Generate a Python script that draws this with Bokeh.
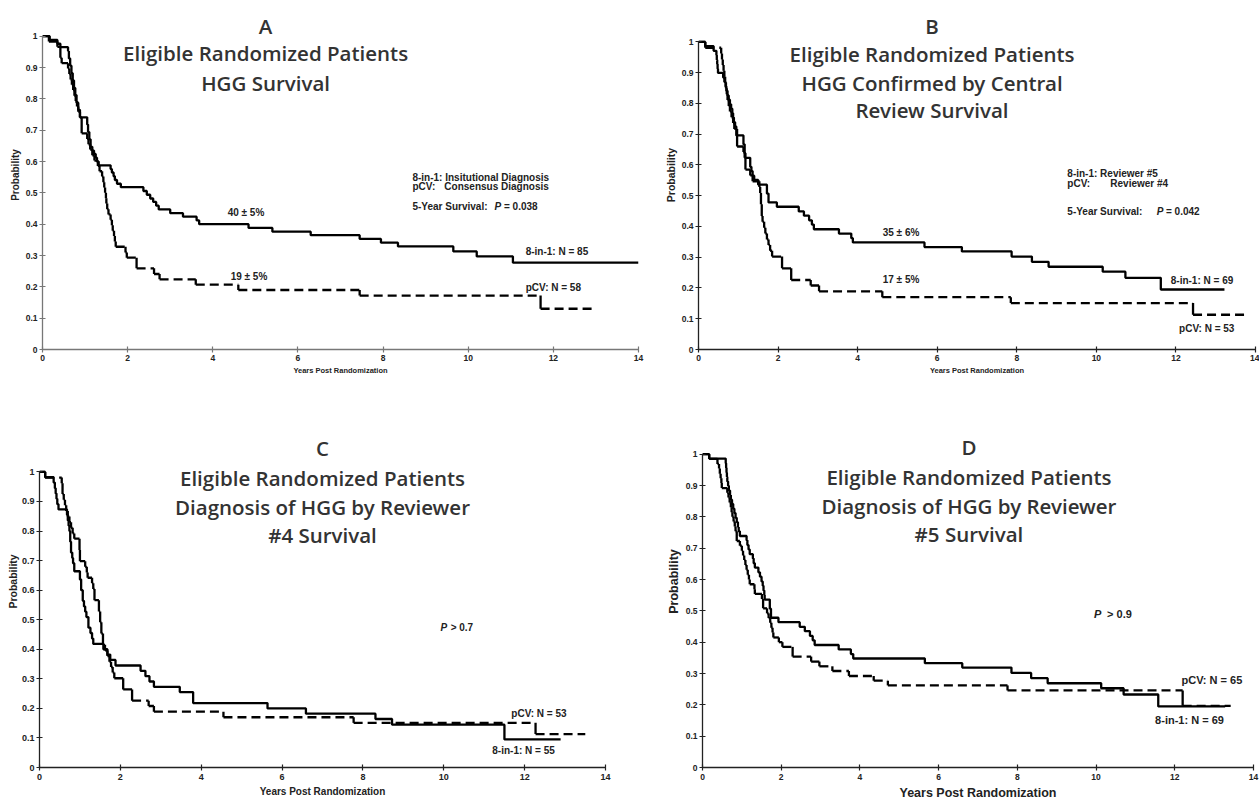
from bokeh.plotting import figure
from bokeh.models import Range1d, FixedTicker, Label
from bokeh.layouts import row, column
from bokeh.embed import file_html
from bokeh.resources import INLINE

# ---------------- data ----------------
X_TICKS = [0, 2, 4, 6, 8, 10, 12, 14]
X_TICK_LABELS = ["0", "2", "4", "6", "8", "10", "12", "14"]
Y_TICKS = [0, 0.1, 0.2, 0.3, 0.4, 0.5, 0.6, 0.7, 0.8, 0.9, 1]
Y_TICK_LABELS = ["0", "0.1", "0.2", "0.3", "0.4", "0.5", "0.6", "0.7", "0.8", "0.9", "1"]

# Kaplan-Meier steps: (time in years, survival probability after the step)
A_8IN1 = [(0, 1.0), (0.17, 0.988), (0.35, 0.976), (0.42, 0.965), (0.6, 0.953), (0.62, 0.929),
          (0.65, 0.906), (0.68, 0.882), (0.71, 0.859), (0.74, 0.835), (0.77, 0.812), (0.8, 0.788),
          (0.84, 0.765), (0.88, 0.741), (1.05, 0.718), (1.07, 0.694), (1.1, 0.671), (1.13, 0.647),
          (1.17, 0.635), (1.21, 0.624), (1.25, 0.612), (1.28, 0.6), (1.32, 0.588), (1.6, 0.576),
          (1.63, 0.565), (1.67, 0.553), (1.7, 0.541), (1.75, 0.529), (1.84, 0.518), (2.37, 0.506),
          (2.45, 0.494), (2.53, 0.482), (2.6, 0.471), (2.67, 0.459), (2.73, 0.447), (3.0, 0.435),
          (3.3, 0.424), (3.62, 0.412), (3.68, 0.4), (4.84, 0.388), (5.4, 0.376), (6.3, 0.365),
          (7.45, 0.353), (7.95, 0.341), (8.35, 0.329), (9.65, 0.313), (10.2, 0.297), (11.05, 0.277)]
A_8IN1_END = 14.0
A_PCV = [(0, 1.0), (0.15, 0.983), (0.35, 0.966), (0.42, 0.931), (0.45, 0.914), (0.6, 0.897),
         (0.63, 0.879), (0.66, 0.862), (0.69, 0.845), (0.72, 0.828), (0.75, 0.81), (0.78, 0.793),
         (0.81, 0.776), (0.84, 0.759), (0.88, 0.741), (0.92, 0.69), (1.05, 0.672), (1.08, 0.655),
         (1.12, 0.638), (1.17, 0.62), (1.22, 0.603), (1.3, 0.586), (1.34, 0.569), (1.4, 0.552),
         (1.43, 0.534), (1.45, 0.517), (1.47, 0.5), (1.49, 0.483), (1.5, 0.466), (1.52, 0.448),
         (1.55, 0.431), (1.6, 0.414), (1.63, 0.397), (1.65, 0.379), (1.68, 0.362), (1.7, 0.345),
         (1.72, 0.328), (1.95, 0.31), (1.98, 0.293), (2.21, 0.259), (2.62, 0.241), (2.75, 0.224),
         (3.6, 0.207), (4.6, 0.19), (7.45, 0.172), (11.7, 0.13)]
A_PCV_END = 12.9

B_8IN1 = [(0, 1.0), (0.17, 0.986), (0.38, 0.971), (0.45, 0.957), (0.46, 0.942), (0.47, 0.928),
          (0.48, 0.913), (0.49, 0.899), (0.62, 0.884), (0.65, 0.87), (0.68, 0.855), (0.7, 0.841),
          (0.73, 0.826), (0.76, 0.812), (0.79, 0.797), (0.82, 0.783), (0.85, 0.768), (0.87, 0.754),
          (0.89, 0.739), (0.92, 0.725), (0.95, 0.696), (1.13, 0.667), (1.16, 0.638), (1.18, 0.623),
          (1.3, 0.594), (1.33, 0.58), (1.36, 0.565), (1.4, 0.551), (1.5, 0.536), (1.72, 0.507),
          (1.76, 0.478), (1.97, 0.464), (2.52, 0.449), (2.65, 0.435), (2.78, 0.42), (2.85, 0.406),
          (2.9, 0.391), (3.53, 0.377), (3.84, 0.362), (3.88, 0.348), (5.68, 0.333), (6.62, 0.319),
          (7.87, 0.302), (8.38, 0.285), (8.8, 0.269), (10.16, 0.253), (10.73, 0.233), (11.62, 0.195)]
B_8IN1_END = 13.22
B_PCV = [(0, 1.0), (0.17, 0.981), (0.57, 0.962), (0.59, 0.943), (0.61, 0.925), (0.63, 0.906),
         (0.65, 0.887), (0.67, 0.868), (0.69, 0.849), (0.71, 0.83), (0.73, 0.811), (0.76, 0.792),
         (0.79, 0.774), (0.83, 0.755), (0.87, 0.736), (0.9, 0.717), (0.97, 0.66), (1.13, 0.642),
         (1.16, 0.623), (1.18, 0.585), (1.3, 0.566), (1.36, 0.547), (1.53, 0.528), (1.55, 0.509),
         (1.57, 0.472), (1.59, 0.434), (1.61, 0.415), (1.65, 0.396), (1.68, 0.377), (1.72, 0.358),
         (1.76, 0.34), (1.8, 0.321), (1.85, 0.302), (2.1, 0.264), (2.33, 0.226), (2.82, 0.208),
         (3.03, 0.189), (4.62, 0.17), (7.85, 0.151), (12.43, 0.113)]
B_PCV_END = 13.75

C_8IN1 = [(0, 1.0), (0.14, 0.982), (0.35, 0.964), (0.38, 0.945), (0.4, 0.927), (0.42, 0.909),
          (0.44, 0.891), (0.47, 0.873), (0.68, 0.855), (0.7, 0.836), (0.72, 0.818), (0.74, 0.8),
          (0.76, 0.764), (0.78, 0.727), (0.81, 0.709), (0.83, 0.691), (0.86, 0.664), (1.0, 0.636),
          (1.03, 0.6), (1.07, 0.564), (1.1, 0.545), (1.13, 0.527), (1.16, 0.509), (1.21, 0.473),
          (1.26, 0.455), (1.3, 0.436), (1.33, 0.418), (1.58, 0.4), (1.68, 0.382), (1.75, 0.364),
          (1.88, 0.345), (2.5, 0.327), (2.62, 0.309), (2.72, 0.291), (2.83, 0.273), (3.47, 0.255),
          (3.8, 0.218), (5.64, 0.2), (6.59, 0.182), (8.31, 0.164), (8.72, 0.145), (11.5, 0.095)]
C_8IN1_END = 12.89
C_PCV = [(0, 1.0), (0.14, 0.981), (0.55, 0.962), (0.57, 0.925), (0.6, 0.906), (0.63, 0.887),
         (0.66, 0.868), (0.7, 0.849), (0.74, 0.83), (0.78, 0.811), (0.82, 0.792), (0.86, 0.774),
         (0.99, 0.736), (1.0, 0.698), (1.13, 0.679), (1.17, 0.66), (1.19, 0.642), (1.3, 0.623),
         (1.33, 0.604), (1.36, 0.566), (1.47, 0.528), (1.5, 0.491), (1.53, 0.453), (1.57, 0.415),
         (1.62, 0.396), (1.68, 0.377), (1.73, 0.358), (1.77, 0.34), (1.81, 0.321), (1.85, 0.302),
         (2.07, 0.264), (2.29, 0.226), (2.7, 0.208), (2.83, 0.189), (4.55, 0.17), (7.77, 0.151),
         (12.27, 0.113)]
C_PCV_END = 13.5

D_8IN1 = [(0, 1.0), (0.17, 0.986), (0.59, 0.971), (0.6, 0.957), (0.61, 0.942), (0.62, 0.928),
          (0.63, 0.913), (0.65, 0.899), (0.67, 0.884), (0.7, 0.87), (0.72, 0.855), (0.75, 0.841),
          (0.78, 0.826), (0.81, 0.812), (0.84, 0.797), (0.87, 0.783), (0.9, 0.768), (0.92, 0.754),
          (0.95, 0.739), (1.12, 0.725), (1.14, 0.71), (1.17, 0.696), (1.2, 0.681), (1.28, 0.667),
          (1.3, 0.652), (1.33, 0.638), (1.42, 0.623), (1.46, 0.609), (1.5, 0.594), (1.53, 0.58),
          (1.55, 0.565), (1.57, 0.551), (1.58, 0.536), (1.71, 0.507), (1.74, 0.478), (1.93, 0.464),
          (2.47, 0.449), (2.6, 0.435), (2.73, 0.42), (2.8, 0.406), (2.85, 0.391), (3.46, 0.377),
          (3.77, 0.362), (3.83, 0.348), (5.65, 0.333), (6.6, 0.319), (7.85, 0.302), (8.35, 0.285),
          (8.77, 0.269), (10.13, 0.253), (10.7, 0.233), (11.58, 0.195)]
D_8IN1_END = 13.28
D_PCV = [(0, 1.0), (0.17, 0.985), (0.38, 0.969), (0.42, 0.954), (0.44, 0.938), (0.46, 0.923),
         (0.48, 0.908), (0.49, 0.892), (0.63, 0.877), (0.66, 0.862), (0.69, 0.846), (0.72, 0.831),
         (0.74, 0.815), (0.76, 0.8), (0.79, 0.785), (0.82, 0.769), (0.84, 0.754), (0.87, 0.723),
         (0.95, 0.708), (1.0, 0.692), (1.03, 0.677), (1.06, 0.662), (1.09, 0.646), (1.12, 0.631),
         (1.15, 0.615), (1.18, 0.6), (1.2, 0.585), (1.32, 0.569), (1.33, 0.554), (1.51, 0.538),
         (1.54, 0.508), (1.64, 0.492), (1.68, 0.477), (1.72, 0.462), (1.75, 0.446), (1.78, 0.431),
         (1.8, 0.415), (1.94, 0.4), (2.03, 0.385), (2.29, 0.354), (2.76, 0.338), (2.97, 0.323),
         (3.3, 0.308), (3.72, 0.292), (4.35, 0.277), (4.71, 0.262), (7.75, 0.246), (12.2, 0.197)]
D_PCV_END = 13.42

TITLE_A = ["A", "Eligible Randomized Patients", "HGG Survival"]
TITLE_B = ["B", "Eligible Randomized Patients", "HGG Confirmed by Central", "Review Survival"]
TITLE_C = ["C", "Eligible Randomized Patients", "Diagnosis of HGG by Reviewer", "#4 Survival"]
TITLE_D = ["D", "Eligible Randomized Patients", "Diagnosis of HGG by Reviewer", "#5 Survival"]

# ---------------- helpers ----------------
TXT = "Liberation Sans"
TITLE_FONT = "Open Sans SemiBold, Open Sans"
ANN = "10px"


def solid_xy(pts, end):
    xs, ys = [], []
    for i, (t, s) in enumerate(pts):
        t_next = pts[i + 1][0] if i + 1 < len(pts) else end
        xs += [t, t_next]
        ys += [s, s]
    return xs, ys


def dashed_segments(pts, end):
    hx0, hx1, hy, vx, vy0, vy1 = [], [], [], [], [], []
    for i, (t, s) in enumerate(pts):
        t_next = pts[i + 1][0] if i + 1 < len(pts) else end
        hx0.append(t)
        hx1.append(t_next)
        hy.append(s)
        if i > 0:
            vx.append(t)
            vy0.append(pts[i - 1][1])
            vy1.append(s)
    return (hx0, hx1, hy), (vx, vy0, vy1)


def make_fig(w, h, bl, br, bb, yend, axc, tick_size, ylab_size, xlab_size):
    p = figure(width=w, height=h, x_range=Range1d(0, 14), y_range=Range1d(0, yend),
               output_backend="svg", toolbar_location=None, title=None,
               min_border_left=bl, min_border_right=br, min_border_top=0, min_border_bottom=bb)
    p.outline_line_color = None
    p.xgrid.visible = False
    p.ygrid.visible = False
    p.background_fill_color = "white"
    p.border_fill_color = "white"
    p.xaxis.ticker = FixedTicker(ticks=X_TICKS)
    p.xaxis.major_label_overrides = dict(zip(X_TICKS, X_TICK_LABELS))
    p.yaxis.ticker = FixedTicker(ticks=Y_TICKS)
    p.yaxis.major_label_overrides = dict(zip(Y_TICKS, Y_TICK_LABELS))
    p.xaxis.bounds = (0, 14)
    p.yaxis.bounds = (0, 1)
    p.xaxis.axis_label = "Years Post Randomization"
    p.yaxis.axis_label = "Probability"
    for ax in (p.xaxis[0], p.yaxis[0]):
        ax.axis_line_color = axc
        ax.axis_line_width = 1.3
        ax.major_tick_line_color = axc
        ax.major_tick_line_width = 1.2
        ax.major_tick_in = 3
        ax.major_tick_out = 3
        ax.minor_tick_line_color = None
        ax.major_label_text_font = TXT
        ax.major_label_text_font_style = "bold"
        ax.major_label_text_font_size = tick_size
        ax.major_label_text_color = "#222222"
        ax.major_label_standoff = 2
        ax.axis_label_text_font = TXT
        ax.axis_label_text_font_style = "bold"
        ax.axis_label_text_color = "#222222"
        ax.axis_label_standoff = 2
    p.yaxis.axis_label_text_font_size = ylab_size
    p.xaxis.axis_label_text_font_size = xlab_size
    return p


def draw(p, solid, solid_end, dashed, dashed_end):
    xs, ys = solid_xy(solid, solid_end)
    p.line(xs, ys, line_color="black", line_width=2.3)
    (hx0, hx1, hy), (vx, vy0, vy1) = dashed_segments(dashed, dashed_end)
    p.segment(x0=hx0, y0=hy, x1=hx1, y1=hy, line_color="black", line_width=2.3, line_dash="9 5")
    p.segment(x0=vx, y0=vy0, x1=vx, y1=vy1, line_color="black", line_width=2.3)


def txt(p, x, y, text, size, style="bold", align="left", font=TXT, color="#222222"):
    p.add_layout(Label(x=x, y=y, text=text, text_font=font, text_font_size=size,
                       text_font_style=style, text_align=align, text_baseline="middle",
                       text_color=color))


def title(p, x, ys, lines):
    for y, line in zip(ys, lines):
        txt(p, x, y, line, "20.5px", style="normal", align="center", font=TITLE_FONT, color="#333333")


# ---------------- panel A ----------------
pa = make_fig(648, 395, 42, 10, 46, 1.114, "#777777", "8.5px", "10px", "7.5px")
draw(pa, A_8IN1, A_8IN1_END, A_PCV, A_PCV_END)
title(pa, 5.24, [1.034, 0.945, 0.852], TITLE_A)
txt(pa, 8.69, 0.549, "8-in-1: Insitutional Diagnosis", ANN)
txt(pa, 8.69, 0.520, "pCV:", ANN)
txt(pa, 9.44, 0.520, "Consensus Diagnosis", ANN)
txt(pa, 8.69, 0.456, "5-Year Survival:", ANN)
txt(pa, 10.62, 0.456, "P", ANN, style="bold italic")
txt(pa, 10.84, 0.456, "= 0.038", ANN)
txt(pa, 4.35, 0.437, "40 \u00b1 5%", ANN)
txt(pa, 4.42, 0.233, "19 \u00b1 5%", ANN)
txt(pa, 11.35, 0.313, "8-in-1: N = 85", ANN)
txt(pa, 11.35, 0.199, "pCV: N = 58", ANN)

# ---------------- panel B ----------------
pb = make_fig(611, 395, 50, 4, 46, 1.1346, "#222222", "8.5px", "10.5px", "7.5px")
draw(pb, B_8IN1, B_8IN1_END, B_PCV, B_PCV_END)
title(pb, 5.87, [1.053, 0.962, 0.868, 0.777], TITLE_B)
txt(pb, 9.27, 0.572, "8-in-1: Reviewer #5", ANN)
txt(pb, 9.27, 0.539, "pCV:", ANN)
txt(pb, 10.35, 0.539, "Reviewer #4", ANN)
txt(pb, 9.27, 0.448, "5-Year Survival:", ANN)
txt(pb, 11.52, 0.448, "P", ANN, style="bold italic")
txt(pb, 11.75, 0.448, "= 0.042", ANN)
txt(pb, 4.63, 0.381, "35 \u00b1 6%", ANN)
txt(pb, 4.63, 0.228, "17 \u00b1 5%", ANN)
txt(pb, 11.87, 0.224, "8-in-1: N = 69", ANN)
txt(pb, 12.08, 0.068, "pCV: N = 53", ANN)

# ---------------- panel C ----------------
pc = make_fig(648, 408, 39, 43, 36, 1.2585, "#222222", "9px", "10.5px", "10px")
pc.yaxis.axis_label_standoff = 0
pc.xaxis.major_label_standoff = 3
pc.xaxis.axis_label_standoff = 3
draw(pc, C_8IN1, C_8IN1_END, C_PCV, C_PCV_END)
title(pc, 7.0, [1.080, 0.979, 0.881, 0.786], TITLE_C)
txt(pc, 9.92, 0.475, "P", ANN, style="bold italic")
txt(pc, 10.17, 0.475, "> 0.7", ANN)
txt(pc, 11.67, 0.184, "pCV: N = 53", ANN)
txt(pc, 11.2, 0.059, "8-in-1: N = 55", ANN)

# ---------------- panel D ----------------
pd_ = make_fig(611, 408, 54, 6, 36, 1.1874, "#222222", "8.5px", "12.5px", "12.5px")
pd_.xaxis.major_label_standoff = 3
pd_.xaxis.axis_label_standoff = 3
draw(pd_, D_8IN1, D_8IN1_END, D_PCV, D_PCV_END)
title(pd_, 6.77, [1.022, 0.927, 0.834, 0.745], TITLE_D)
txt(pd_, 9.95, 0.489, "P", "11px", style="bold italic")
txt(pd_, 10.28, 0.489, "> 0.9", "11px")
txt(pd_, 12.17, 0.279, "pCV: N = 65", "11px")
txt(pd_, 11.5, 0.151, "8-in-1: N = 69", "11px")

layout = column(row(pa, pb), row(pc, pd_))
open("out.html", "w").write(file_html(layout, INLINE))
